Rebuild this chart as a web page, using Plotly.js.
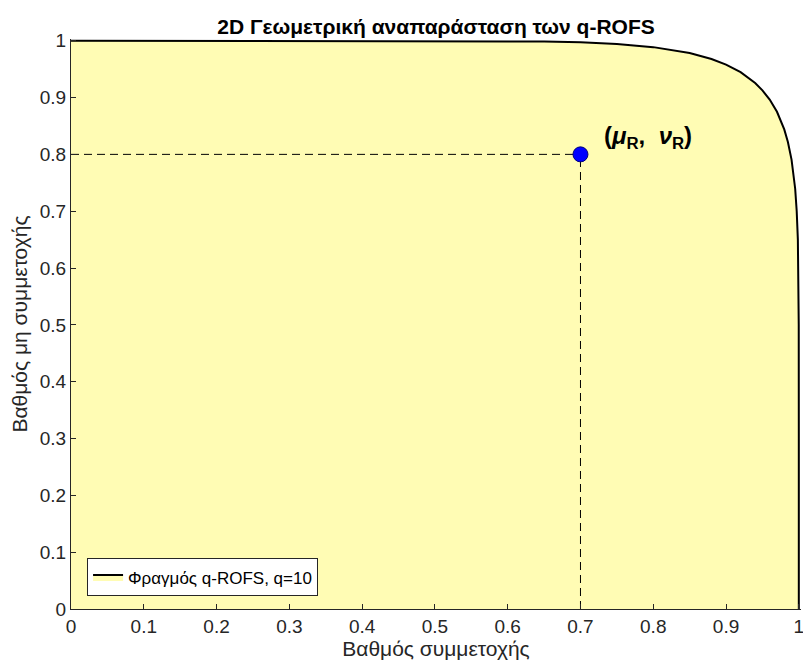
<!DOCTYPE html>
<html>
<head>
<meta charset="utf-8">
<script src="https://cdn.plot.ly/plotly-3.0.1.min.js"></script>
<style>html,body{margin:0;padding:0;background:#fff;}#chart{width:803px;height:664px;}</style>
</head>
<body>
<div id="chart"></div>
<script>
// Boundary curve of q-ROFS (q=10)
const curveX = [0, 0.1, 0.2, 0.3, 0.4, 0.5, 0.6, 0.65, 0.7, 0.75, 0.8, 0.85, 0.88, 0.9, 0.92, 0.94, 0.95, 0.96, 0.97, 0.98, 0.985, 0.99, 0.995, 0.9971, 0.9987, 0.9994, 0.9999, 1, 1];
const curveY = [1, 1, 1, 1, 1, 0.9999, 0.9994, 0.9987, 0.9971, 0.9942, 0.9887, 0.9783, 0.9679, 0.958, 0.9446, 0.9256, 0.9127, 0.8965, 0.8749, 0.8439, 0.8217, 0.7908, 0.7395, 0.7, 0.65, 0.6, 0.5, 0.3, 0];
const pointX = [0.7];
const pointY = [0.8];
const hDashX = [0, 0.7];
const hDashY = [0.8, 0.8];
const vDashX = [0.7, 0.7];
const vDashY = [0, 0.8];
const xTicks = [0, 0.1, 0.2, 0.3, 0.4, 0.5, 0.6, 0.7, 0.8, 0.9, 1];
const yTicks = [0, 0.1, 0.2, 0.3, 0.4, 0.5, 0.6, 0.7, 0.8, 0.9, 1];
const tickLabels = ['0', '0.1', '0.2', '0.3', '0.4', '0.5', '0.6', '0.7', '0.8', '0.9', '1'];

const traces = [
  {x: curveX, y: curveY, type: 'scatter', mode: 'lines', fill: 'tozeroy',
   fillcolor: 'rgb(255,252,180)', line: {color: '#000', width: 2},
   name: 'Φραγμός q-ROFS, q=10', showlegend: true, hoverinfo: 'skip'},
  {x: hDashX, y: hDashY, type: 'scatter', mode: 'lines',
   line: {color: '#000', width: 1, dash: '8px,5px'}, showlegend: false},
  {x: vDashX, y: vDashY, type: 'scatter', mode: 'lines',
   line: {color: '#000', width: 1, dash: '8px,5px'}, showlegend: false},
  {x: pointX, y: pointY, type: 'scatter', mode: 'markers',
   marker: {color: '#0000ff', size: 15, line: {color: '#00007a', width: 1}}, showlegend: false}
];

const axisCommon = {
  showgrid: false, zeroline: false, showline: true,
  linecolor: '#262626', linewidth: 1, ticks: 'inside', ticklen: 5, tickcolor: '#262626',
  tickfont: {family: 'Liberation Sans, Arial, sans-serif', size: 19, color: '#262626'},
  ticklabeloverflow: 'allow',
  mirror: false
};

const layout = {
  width: 803, height: 664,
  margin: {l: 71, r: 2, t: 39, b: 55},
  paper_bgcolor: '#fff', plot_bgcolor: '#fff',
  title: {text: '<b>2D Γεωμετρική αναπαράσταση των q-ROFS</b>',
          font: {family: 'Liberation Sans, Arial, sans-serif', size: 21, color: '#000'},
          x: 0.5, xref: 'paper', y: 1, yref: 'paper', yanchor: 'bottom', pad: {b: 5}},
  xaxis: Object.assign({}, axisCommon, {
    range: [0, 1.003],
    tickvals: xTicks, ticktext: tickLabels,
    title: {text: 'Βαθμός συμμετοχής', standoff: 3,
            font: {family: 'Liberation Sans, Arial, sans-serif', size: 21, color: '#262626'}}
  }),
  yaxis: Object.assign({}, axisCommon, {
    range: [0, 1.003],
    tickvals: yTicks, ticktext: tickLabels,
    title: {text: 'Βαθμός μη συμμετοχής', standoff: 6,
            font: {family: 'Liberation Sans, Arial, sans-serif', size: 21, color: '#262626'}}
  }),
  legend: {x: 0.022, y: 0.022, xanchor: 'left', yanchor: 'bottom',
           bgcolor: '#fff', bordercolor: '#262626', borderwidth: 1,
           tracegroupgap: 0, itemwidth: 30,
           font: {family: 'Liberation Sans, Arial, sans-serif', size: 17, color: '#000'}},
  annotations: [{
    x: 0.73, y: 0.83, xref: 'x', yref: 'y', xanchor: 'left', yanchor: 'middle',
    text: '<b>(<i>μ</i><sub>R</sub>,  <i>ν</i><sub>R</sub>)</b>', showarrow: false,
    font: {family: 'Liberation Sans, Arial, sans-serif', size: 24, color: '#000'}
  }],
  showlegend: true
};

Plotly.newPlot('chart', traces, layout, {displayModeBar: false, staticPlot: true});
</script>
</body>
</html>
